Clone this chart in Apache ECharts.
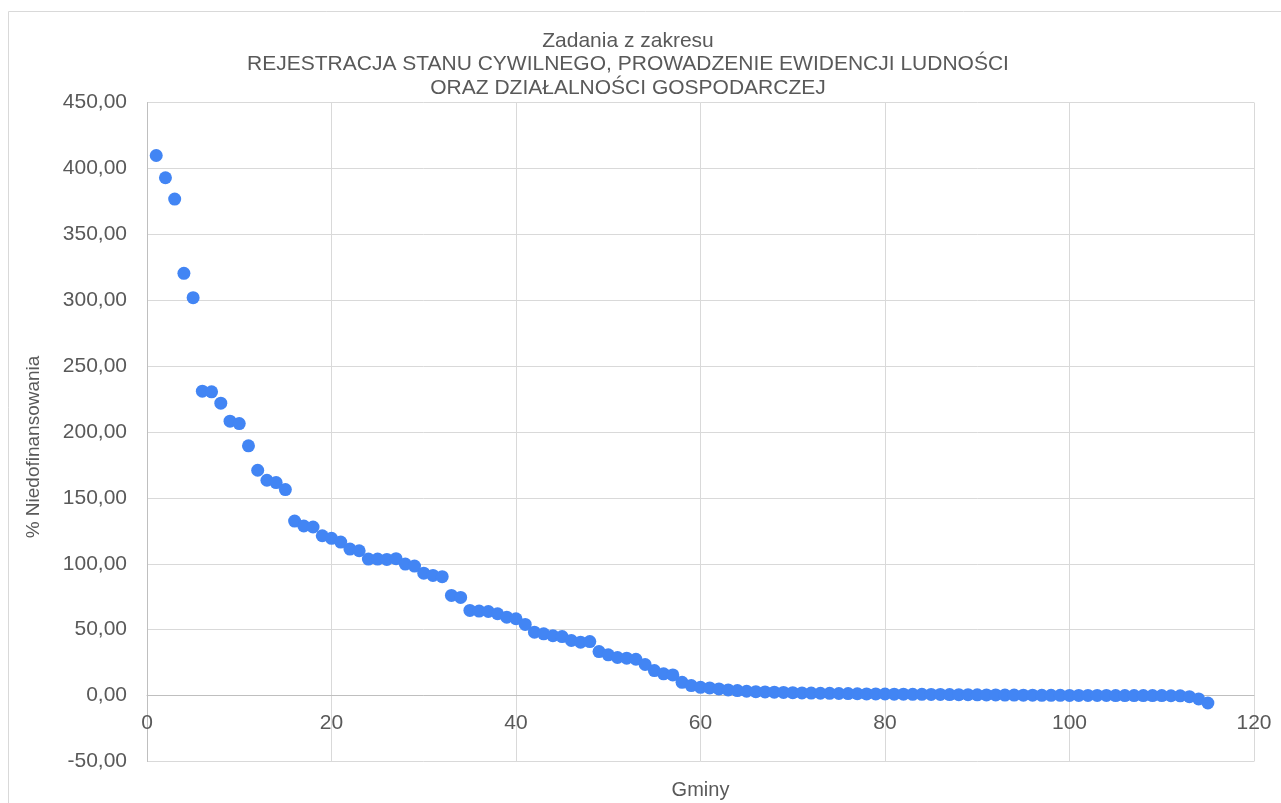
<!DOCTYPE html>
<html>
<head>
<meta charset="utf-8">
<title>Zadania z zakresu</title>
<script src="https://cdn.jsdelivr.net/npm/echarts@6/dist/echarts.min.js"></script>
<style>
  html, body { margin: 0; padding: 0; background: #fff; }
  #chart { width: 1281px; height: 803px; }
</style>
</head>
<body>
<div id="chart"></div>
<script>
  // Gminy 1..115, % niedofinansowania
  const niedofinansowanie = [
    409.8, 392.9, 376.7, 320.4, 301.9, 231.0, 230.5, 221.9, 208.2, 206.4,
    189.5, 171.0, 163.4, 161.6, 156.3, 132.4, 128.7, 127.9, 121.3, 119.3,
    116.5, 111.2, 109.9, 103.6, 103.6, 103.3, 103.9, 99.8, 98.3, 92.9,
    91.2, 90.2, 76.0, 74.5, 64.6, 64.1, 63.8, 62.1, 59.5, 58.3,
    54.0, 48.1, 46.9, 45.4, 44.8, 41.8, 40.5, 41.0, 33.4, 30.9,
    28.9, 28.4, 27.6, 23.6, 19.0, 16.5, 15.7, 10.1, 7.6, 6.3,
    5.8, 5.1, 4.3, 3.8, 3.3, 3.0, 2.8, 2.6, 2.4, 2.2,
    2.0, 1.9, 1.8, 1.7, 1.6, 1.5, 1.4, 1.3, 1.3, 1.2,
    1.1, 1.1, 1.0, 1.0, 0.9, 0.9, 0.8, 0.7, 0.7, 0.6,
    0.5, 0.5, 0.4, 0.4, 0.3, 0.3, 0.2, 0.2, 0.2, 0.1,
    0.1, 0.1, 0.1, 0.1, 0.0, 0.0, 0.0, 0.0, 0.0, 0.0,
    -0.1, -0.2, -0.8, -2.5, -5.6
  ]
  const gminy = niedofinansowanie.map((v, i) => i + 1)
  const tytul = [
    'Zadania z zakresu',
    'REJESTRACJA STANU CYWILNEGO, PROWADZENIE EWIDENCJI LUDNOŚCI',
    'ORAZ DZIAŁALNOŚCI GOSPODARCZEJ'
  ]

  const textColor = '#595959'
  const gridColor = '#d9d9d9'
  const font = 'Liberation Sans, Arial, sans-serif'

  const gridTop = 102.5
  const gridBottom = 41.5
  const yMin = -50
  const yMax = 450
  // przesunięcie osi X tak, by leżała na wartości 0 osi Y
  const plotHeight = 803 - gridTop - gridBottom
  const xAxisOffset = -plotHeight * (0 - yMin) / (yMax - yMin)

  let chart = echarts.init(document.getElementById('chart'), null, { renderer: 'canvas' })
  chart.setOption({
    animation: false,
    textStyle: { fontFamily: font },
    graphic: [{
      type: 'rect',
      shape: { x: 8.5, y: 11.5, width: 1300, height: 900 },
      style: { fill: 'none', stroke: gridColor, lineWidth: 1 },
      silent: true
    }],
    title: {
      text: tytul.join('\n'),
      left: 623,
      top: 24,
      textAlign: 'center',
      textStyle: {
        fontFamily: font,
        fontSize: 21,
        fontWeight: 'normal',
        color: textColor,
        lineHeight: 23.5
      }
    },
    grid: {
      left: 147,
      right: 27,
      top: gridTop,
      bottom: gridBottom,
      containLabel: false,
      outerBoundsMode: 'none'
    },
    xAxis: {
      type: 'value',
      min: 0,
      max: 120,
      interval: 20,
      offset: xAxisOffset,
      name: 'Gminy',
      nameLocation: 'middle',
      nameGap: 85,
      nameTextStyle: { color: textColor, fontSize: 20, fontFamily: font },
      axisLine: { onZero: false, lineStyle: { color: '#bfbfbf' } },
      axisTick: { show: false },
      axisLabel: { color: textColor, fontSize: 21, margin: 17, fontFamily: font },
      splitLine: { show: true, lineStyle: { color: gridColor } }
    },
    yAxis: {
      type: 'value',
      min: yMin,
      max: yMax,
      interval: 50,
      name: '% Niedofinansowania',
      nameLocation: 'middle',
      nameGap: 104,
      nameRotate: 90,
      nameTextStyle: { color: textColor, fontSize: 19, fontFamily: font, padding: [0, 30, 0, 0] },
      axisLine: { show: true, lineStyle: { color: '#bfbfbf' } },
      axisTick: { show: false },
      axisLabel: {
        color: textColor,
        fontSize: 21,
        margin: 20,
        fontFamily: font,
        formatter: v => v.toFixed(2).replace('.', ',')
      },
      splitLine: { show: true, lineStyle: { color: gridColor } }
    },
    series: [{
      type: 'scatter',
      symbol: 'circle',
      symbolSize: 13,
      itemStyle: { color: '#4285F4', opacity: 1 },
      data: gminy.map((g, i) => [g, niedofinansowanie[i]])
    }]
  })
</script>
</body>
</html>
